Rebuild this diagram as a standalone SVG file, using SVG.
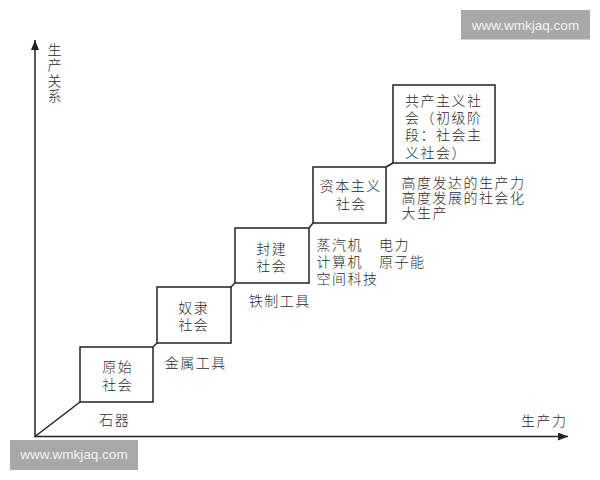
<svg xmlns="http://www.w3.org/2000/svg" width="600" height="480" viewBox="0 0 600 480">
<style>
.box{fill:#fff;stroke:#222;stroke-width:1.5}
.ln{stroke:#222;stroke-width:1.5;fill:none}
.t{font-family:"Noto Sans CJK SC","Noto Sans",sans-serif;font-size:14px;font-weight:300;fill:#2a2a2a;dominant-baseline:central;letter-spacing:1.5px}
.c{text-anchor:middle}
.wm{fill:#a8a8a8}
.wt{font-family:"Liberation Sans",Arial,sans-serif;font-size:13.5px;fill:#f4f4f4;dominant-baseline:central;text-anchor:middle}
</style>
<defs>
<marker id="ah" viewBox="0 0 10 8" refX="10" refY="4" markerWidth="10" markerHeight="8" markerUnits="userSpaceOnUse" orient="auto">
<path d="M0,0 L10,4 L0,8 Z" fill="#222"/>
</marker>
</defs>
<rect width="600" height="480" fill="#fff"/>
<g id="axes">
<line class="ln" x1="35" y1="437" x2="35" y2="40" marker-end="url(#ah)"/>
<line class="ln" x1="34.3" y1="436.5" x2="568" y2="436.5" marker-end="url(#ah)"/>
<text class="t c"><tspan x="55.25" y="48.5">生</tspan><tspan x="55.25" y="64">产</tspan><tspan x="55.25" y="79.5">关</tspan><tspan x="55.25" y="95">系</tspan></text>
<text class="t" x="521" y="420">生产力</text>
</g>
<g id="connectors">
<line class="ln" x1="35" y1="436.5" x2="80" y2="402"/>
<line class="ln" x1="153" y1="347" x2="157" y2="343"/>
<line class="ln" x1="231" y1="287" x2="235" y2="283"/>
<line class="ln" x1="309" y1="228" x2="313" y2="223"/>
<line class="ln" x1="386" y1="167" x2="393" y2="163"/>
</g>
<g id="primitive">
<rect class="box" x="80" y="347" width="73" height="55"/>
<text class="t c"><tspan x="117.75" y="366">原始</tspan><tspan x="117.75" y="383.5">社会</tspan></text>
<text class="t c" x="114.75" y="418.5">石器</text>
</g>
<g id="slave">
<rect class="box" x="157" y="287" width="74" height="56"/>
<text class="t c"><tspan x="193.75" y="306.5">奴隶</tspan><tspan x="193.75" y="324">社会</tspan></text>
<text class="t c" x="195.75" y="361.5">金属工具</text>
</g>
<g id="feudal">
<rect class="box" x="235" y="228" width="74" height="55"/>
<text class="t c"><tspan x="271.75" y="247.5">封建</tspan><tspan x="271.75" y="265">社会</tspan></text>
<text class="t c" x="279.75" y="300">铁制工具</text>
</g>
<g id="capitalist">
<rect class="box" x="313" y="167" width="73" height="56"/>
<text class="t c"><tspan x="350.75" y="184.5">资本主义</tspan><tspan x="351.25" y="202.5">社会</tspan></text>
<text class="t"><tspan x="316.5" y="243.5">蒸汽机</tspan><tspan x="379" y="243.5">电力</tspan><tspan x="316.5" y="260.5">计算机</tspan><tspan x="379" y="260.5">原子能</tspan><tspan x="316.5" y="278">空间科技</tspan></text>
</g>
<g id="communist">
<rect class="box" x="393" y="85" width="102" height="78"/>
<text class="t"><tspan x="405" y="99.5">共产主义社</tspan><tspan x="405" y="116.5">会（初级阶</tspan><tspan x="405" y="133.5">段：社会主</tspan><tspan x="405" y="151.5">义社会）</tspan></text>
<text class="t"><tspan x="401.5" y="181.5">高度发达的生产力</tspan><tspan x="401.5" y="196.5">高度发展的社会化</tspan><tspan x="401.5" y="211.5">大生产</tspan></text>
</g>
<g id="watermarks">
<rect class="wm" x="461" y="10" width="129" height="29.5"/>
<text class="wt" x="525.5" y="25">www.wmkjaq.com</text>
<rect class="wm" x="10" y="440" width="128" height="30"/>
<text class="wt" x="74" y="454.5">www.wmkjaq.com</text>
</g>
</svg>
